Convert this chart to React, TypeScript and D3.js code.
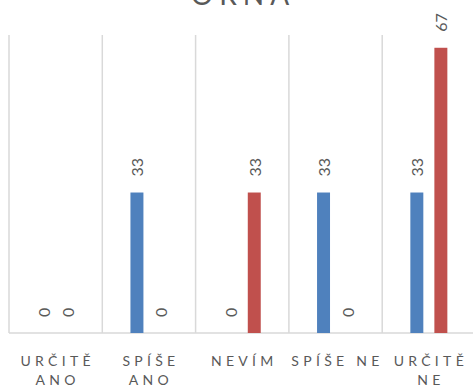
import * as d3 from "d3";
import { useEffect, useRef } from "react";

const categories = ["URČITĚ ANO", "SPÍŠE ANO", "NEVÍM", "SPÍŠE NE", "URČITĚ NE"];
const categoryLines = [["URČITĚ", "ANO"], ["SPÍŠE", "ANO"], ["NEVÍM"], ["SPÍŠE NE"], ["URČITĚ", "NE"]];
const seriesNames = ["A", "B"];
const seriesA = [0, 33, 0, 33, 33];
const seriesB = [0, 0, 33, 0, 67];
const seriesColors = ["#4f81bd", "#c0504d"];
const title = "ORNA";

export default function App() {
  const svgRef = useRef<SVGSVGElement | null>(null);

  useEffect(() => {
    if (!svgRef.current) return;
    const svg = d3.select(svgRef.current);
    svg.selectAll("*").remove();

    const width = 473;
    const plot = { left: 9, right: 475.5, top: 35, bottom: 333 };
    const font = "Lato, 'Open Sans', sans-serif";
    const grey = "#595959";

    const x = d3.scaleBand().domain(categories).range([plot.left, plot.right]);
    const xs = d3.scaleBand().domain(seriesNames).range([-18.5, 18.5]).paddingInner(0.46);
    const y = d3.scaleLinear().domain([0, 70]).range([plot.bottom, plot.top]);

    // title (cut off at the top)
    svg.append("text")
      .attr("x", 243)
      .attr("y", 5)
      .attr("text-anchor", "middle")
      .attr("fill", grey)
      .style("font-family", font)
      .style("font-size", "28px")
      .style("letter-spacing", "6px")
      .text(title);

    // vertical gridlines at category boundaries
    const bounds = categories.map((c) => x(c)!);
    svg.append("g")
      .selectAll("line")
      .data(bounds)
      .enter()
      .append("line")
      .attr("x1", (d) => d)
      .attr("x2", (d) => d)
      .attr("y1", plot.top)
      .attr("y2", plot.bottom)
      .attr("stroke", "#d9d9d9")
      .attr("stroke-width", 1.5);

    // baseline
    svg.append("line")
      .attr("x1", plot.left)
      .attr("x2", width)
      .attr("y1", plot.bottom)
      .attr("y2", plot.bottom)
      .attr("stroke", "#d9d9d9")
      .attr("stroke-width", 1.5);

    const rows = categories.flatMap((c, i) => [
      { cat: c, s: seriesNames[0], v: seriesA[i], color: seriesColors[0] },
      { cat: c, s: seriesNames[1], v: seriesB[i], color: seriesColors[1] },
    ]);
    const cx = (d: { cat: string; s: string }) =>
      x(d.cat)! + x.bandwidth() / 2 + xs(d.s)!;

    svg.append("g")
      .selectAll("rect")
      .data(rows)
      .enter()
      .append("rect")
      .attr("x", (d) => cx(d))
      .attr("width", xs.bandwidth())
      .attr("y", (d) => y(d.v))
      .attr("height", (d) => y(0) - y(d.v))
      .attr("fill", (d) => d.color);

    // data labels, rotated
    svg.append("g")
      .selectAll("text")
      .data(rows)
      .enter()
      .append("text")
      .attr("transform", (d) => `translate(${cx(d) + xs.bandwidth() / 2}, ${y(d.v) - 16}) rotate(-90)`)
      .attr("dominant-baseline", "central")
      .attr("fill", grey)
      .style("font-family", font)
      .style("font-size", "16px")
      .text((d) => d.v);

    // category labels
    const lab = svg.append("g")
      .selectAll("text")
      .data(categories)
      .enter()
      .append("text")
      .attr("text-anchor", "middle")
      .attr("fill", grey)
      .style("font-family", font)
      .style("font-size", "14px")
      .style("letter-spacing", "4.3px");
    lab.each(function (c, i) {
      const t = d3.select(this);
      categoryLines[i].forEach((line, j) => {
        t.append("tspan")
          .attr("x", x(c)! + x.bandwidth() / 2 + 2)
          .attr("y", 366 + j * 19)
          .text(line);
      });
    });
  }, []);

  return (
    <svg
      ref={svgRef}
      width={473}
      height={388}
      style={{ position: "absolute", left: 0, top: 0, background: "#fff" }}
    ></svg>
  );
}
